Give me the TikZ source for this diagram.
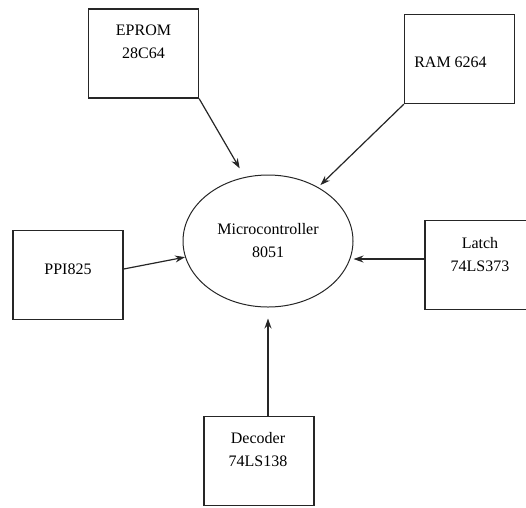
\documentclass[tikz,border=0pt]{standalone}
\usepackage{fontspec}
\setmainfont{Liberation Serif}
\usetikzlibrary{arrows.meta,positioning,shapes.geometric}

\begin{document}
\begin{tikzpicture}[x=1pt, y=-1pt,
  blk/.style={draw=black!85, line width=1.3pt, minimum width=110pt,
    minimum height=89pt, inner sep=0pt},
  blktxt/.style={align=center, inner sep=0pt,
    font=\fontsize{16}{23}\selectfont},
  cpu/.style={ellipse, draw=black!85, line width=1pt, minimum width=170pt,
    minimum height=132pt, inner sep=0pt, align=center,
    font=\fontsize{16}{23}\selectfont},
  arr/.style={-{Stealth[length=10pt,width=7pt]}, line width=1.2pt, black!85}
]
  \useasboundingbox (0,0) rectangle (526,507);

  % processor
  \node[cpu] (mcu) at (268,241) {Microcontroller\\8051};

  % peripheral blocks
  \node[blk] (eprom) at (143.5,53.5) {};
  \node[blk] (ram)   at (459.5,59)   {};
  \node[blk] (ppi)   at (68,275)     {};
  \node[blk] (latch) at (480,265)    {};
  \node[blk] (dec)   at (259,461)    {};

  % block labels
  \node[blktxt] (eprom-t) at ([yshift=12pt]eprom.center) {EPROM\\28C64};
  \node[blktxt] (ram-t)   at ([xshift=-9pt,yshift=-3pt]ram.center) {RAM 6264};
  \node[blktxt] (ppi-t)   at ([yshift=6pt]ppi.center) {PPI825};
  \node[blktxt] (latch-t) at ([yshift=10pt]latch.center) {Latch\\74LS373};
  \node[blktxt] (dec-t)   at ([xshift=-1pt,yshift=11pt]dec.center) {Decoder\\74LS138};

  % connections
  \draw[arr, shorten >=10pt] (eprom.south east) -- (mcu.110);
  \draw[arr, shorten >=3pt] (ram.south west) -- (mcu.47);
  \draw[arr] ([yshift=6pt]ppi.east) -- (mcu.191);
  \draw[arr] ([yshift=6pt]latch.west) -- ([yshift=6pt]latch.west -| mcu.east);
  \draw[arr, shorten >=11pt] (dec.north -| mcu.south) -- (mcu.south);
\end{tikzpicture}
\end{document}
